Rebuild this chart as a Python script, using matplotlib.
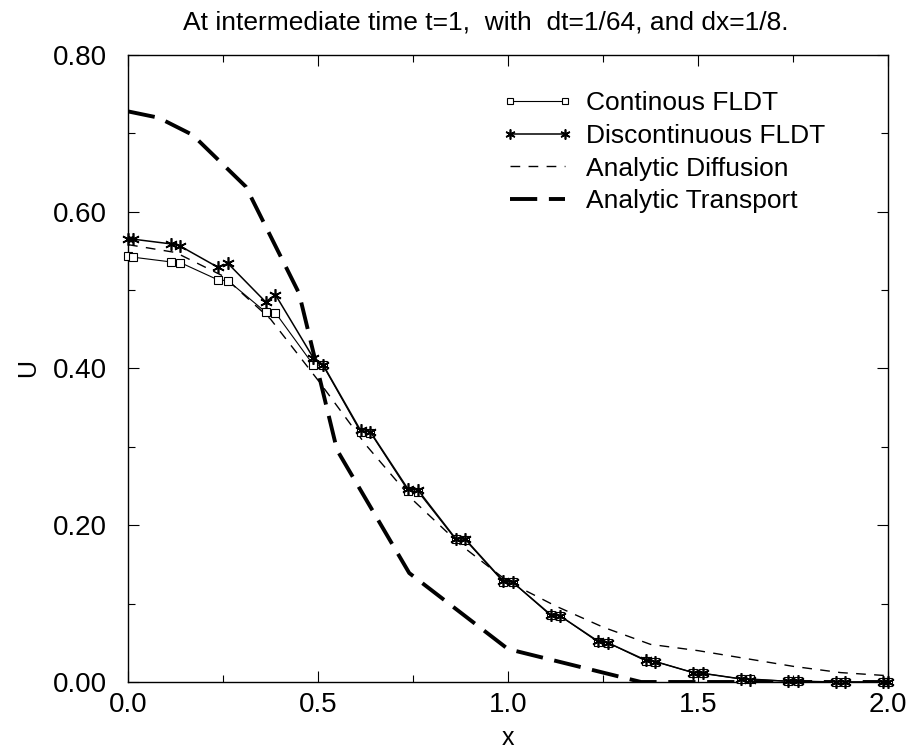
import matplotlib
matplotlib.use('Agg')
import matplotlib.pyplot as plt
from matplotlib.ticker import MultipleLocator

plt.rcParams['font.family'] = ['Liberation Sans', 'DejaVu Sans']

# ---- data ----
# FLDT values: two points per node (left / right side of each node)
x_fldt = [0.0, 0.013, 0.112, 0.138, 0.237, 0.263, 0.362, 0.388,
          0.487, 0.513, 0.612, 0.638, 0.737, 0.763, 0.862, 0.888,
          0.987, 1.013, 1.112, 1.138, 1.237, 1.263, 1.362, 1.388,
          1.487, 1.513, 1.612, 1.638, 1.737, 1.763, 1.862, 1.888,
          1.987, 2.0]
u_cont = [0.543, 0.542, 0.536, 0.535, 0.513, 0.512, 0.472, 0.471,
          0.405, 0.404, 0.319, 0.318, 0.244, 0.243, 0.182, 0.181,
          0.128, 0.127, 0.085, 0.084, 0.051, 0.050, 0.027, 0.026,
          0.012, 0.011, 0.004, 0.004, 0.001, 0.001, 0.0, 0.0,
          0.0, 0.0]
u_disc = [0.565, 0.565, 0.559, 0.556, 0.529, 0.534, 0.485, 0.494,
          0.414, 0.405, 0.321, 0.319, 0.246, 0.245, 0.183, 0.182,
          0.129, 0.127, 0.086, 0.084, 0.052, 0.050, 0.028, 0.026,
          0.012, 0.011, 0.004, 0.003, 0.001, 0.001, 0.0, 0.0,
          0.0, 0.0]

x_diff = [0.0, 0.125, 0.25, 0.375, 0.5, 0.625, 0.75, 0.875, 1.0,
          1.125, 1.25, 1.375, 1.5, 1.625, 1.75, 1.875, 2.0]
u_diff = [0.558, 0.548, 0.518, 0.463, 0.385, 0.303, 0.232, 0.175, 0.128,
          0.097, 0.070, 0.048, 0.040, 0.030, 0.020, 0.012, 0.008]

x_trans = [0.0, 0.08, 0.17, 0.31, 0.45, 0.55, 0.74, 1.0, 1.35, 2.0]
u_trans = [0.728, 0.72, 0.698, 0.632, 0.496, 0.296, 0.139, 0.042, 0.0, 0.0]

title = 'At intermediate time t=1,  with  dt=1/64, and dx=1/8.'

fig = plt.figure(figsize=(9.08, 7.55), dpi=100)
ax = fig.add_axes([0.141, 0.0967, 0.837, 0.8305])

ax.plot(x_fldt, u_cont, color='black', lw=0.8, marker='s', markersize=6,
        markerfacecolor='white', markeredgecolor='black', markeredgewidth=0.8,
        label='Continous FLDT', clip_on=False, zorder=3)
ax.plot(x_fldt, u_disc, color='black', lw=1.1, marker=(6, 2, 0), markersize=9,
        markeredgewidth=1.2, label='Discontinuous FLDT', clip_on=False, zorder=4)
ax.plot(x_diff, u_diff, color='black', lw=1.0, dashes=(7, 6),
        label='Analytic Diffusion', zorder=2)
ax.plot(x_trans, u_trans, color='black', lw=2.8, dashes=(7, 3),
        label='Analytic Transport', zorder=2)

ax.set_xlim(0, 2.0)
ax.set_ylim(0, 0.8)
ax.xaxis.set_major_locator(MultipleLocator(0.5))
ax.xaxis.set_minor_locator(MultipleLocator(0.25))
ax.yaxis.set_major_locator(MultipleLocator(0.2))
ax.yaxis.set_minor_locator(MultipleLocator(0.1))
ax.set_xticklabels([f'{v:.1f}' for v in ax.get_xticks()])
ax.set_yticklabels([f'{v:.2f}' for v in ax.get_yticks()])
ax.tick_params(which='both', direction='in', top=True, right=True,
               labelsize=20, width=0.8)
ax.tick_params(which='major', length=8)
ax.tick_params(which='minor', length=5)
ax.tick_params(axis='y', which='major', pad=15)
ax.tick_params(axis='x', which='major', pad=7)
for s in ax.spines.values():
    s.set_linewidth(1.0)

ax.set_xlabel('x', fontsize=18, labelpad=6)
ax.set_ylabel('U', fontsize=18, labelpad=9)
ax.set_title(title, fontsize=19, pad=18, x=0.471)

ax.legend(loc='upper right', bbox_to_anchor=(0.949, 0.98), frameon=False,
          fontsize=19, handlelength=2.7, handletextpad=0.5, labelspacing=0.33,
          numpoints=2, markerscale=0.8)

fig.savefig('out.png', dpi=100, facecolor='white')
